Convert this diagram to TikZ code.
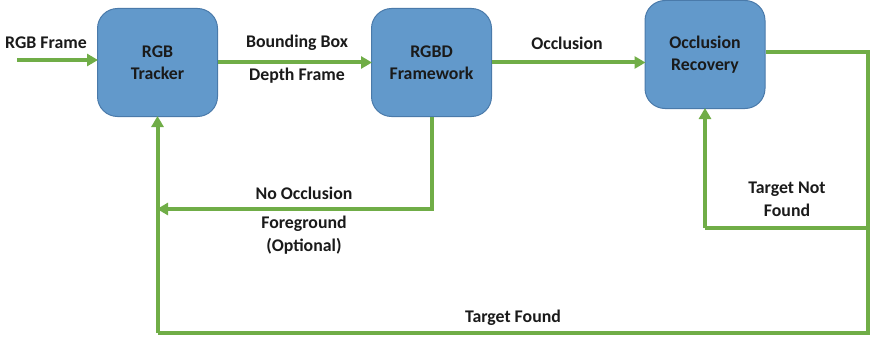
\documentclass[tikz,border=0pt]{standalone}
\usepackage{fontspec}
\setmainfont{Carlito}
\usetikzlibrary{arrows.meta}
\definecolor{boxfill}{HTML}{6299CB}
\definecolor{boxline}{HTML}{4A7AAA}
\definecolor{flowgreen}{HTML}{70AD47}
\definecolor{txt}{HTML}{1A1A1A}
\tikzset{
  x=1pt, y=-1pt,
  procbox/.style={draw=boxline, line width=1pt, fill=boxfill, rounded corners=20pt,
    minimum width=120pt, minimum height=108pt, align=center, inner sep=0pt,
    font=\fontsize{17.8}{21.5}\selectfont\bfseries, text=txt},
  lbl/.style={align=center, inner sep=0pt, font=\fontsize{17.8}{22.5}\selectfont\bfseries, text=txt},
  flow/.style={draw=flowgreen, line width=4pt, line join=miter},
  arr/.style={flow, -{Triangle[length=11pt,width=12pt]}, shorten >=-1pt},
}
\begin{document}
\begin{tikzpicture}
\useasboundingbox (0,0) rectangle (872,337);
\node[procbox] (tracker) at (157.5,62.5) {RGB\\Tracker};
\node[procbox] (rgbd) at (431.5,62.5) {RGBD\\Framework};
\node[procbox] (recovery) at (705,54.5) {Occlusion\\Recovery};

\coordinate (in) at (17,60);
\coordinate (rc) at (868,52);
\coordinate (rb) at (868,333);
\coordinate (lb) at (157.5,333);
\coordinate (br) at (868,228);
\coordinate (bl) at (705,228);
\coordinate (nd) at (431.5,209);
\coordinate (nl) at (158,209);

\draw[arr] (in) -- (in -| tracker.west);
\draw[arr] (tracker.east) -- (rgbd.west);
\draw[arr] (rgbd.east) -- (rgbd.east -| recovery.west);
\draw[arr] (rgbd.south) -- (nd) -- (nl);
\draw[flow] ([yshift=2.5pt]recovery.east) -- (rc) -- (rb) -- (lb);
\draw[arr] (lb) -- (tracker.south);
\draw[flow] (br) -- (bl);
\draw[arr] (bl) -- (recovery.south);

\node[lbl] (lrgb) at (46,43) {RGB Frame};
\node[lbl] (lbb) at (297,43) {Bounding Box};
\node[lbl] (ldf) at (297,76) {Depth Frame};
\node[lbl] (locc) at (567,43) {Occlusion};
\node[lbl] (lno) at (304,193) {No Occlusion};
\node[lbl] (lfg) at (304,235) {Foreground\\(Optional)};
\node[lbl] (ltnf) at (787,199.5) {Target Not\\Found};
\node[lbl] (ltf) at (513,318) {Target Found};
\end{tikzpicture}
\end{document}
